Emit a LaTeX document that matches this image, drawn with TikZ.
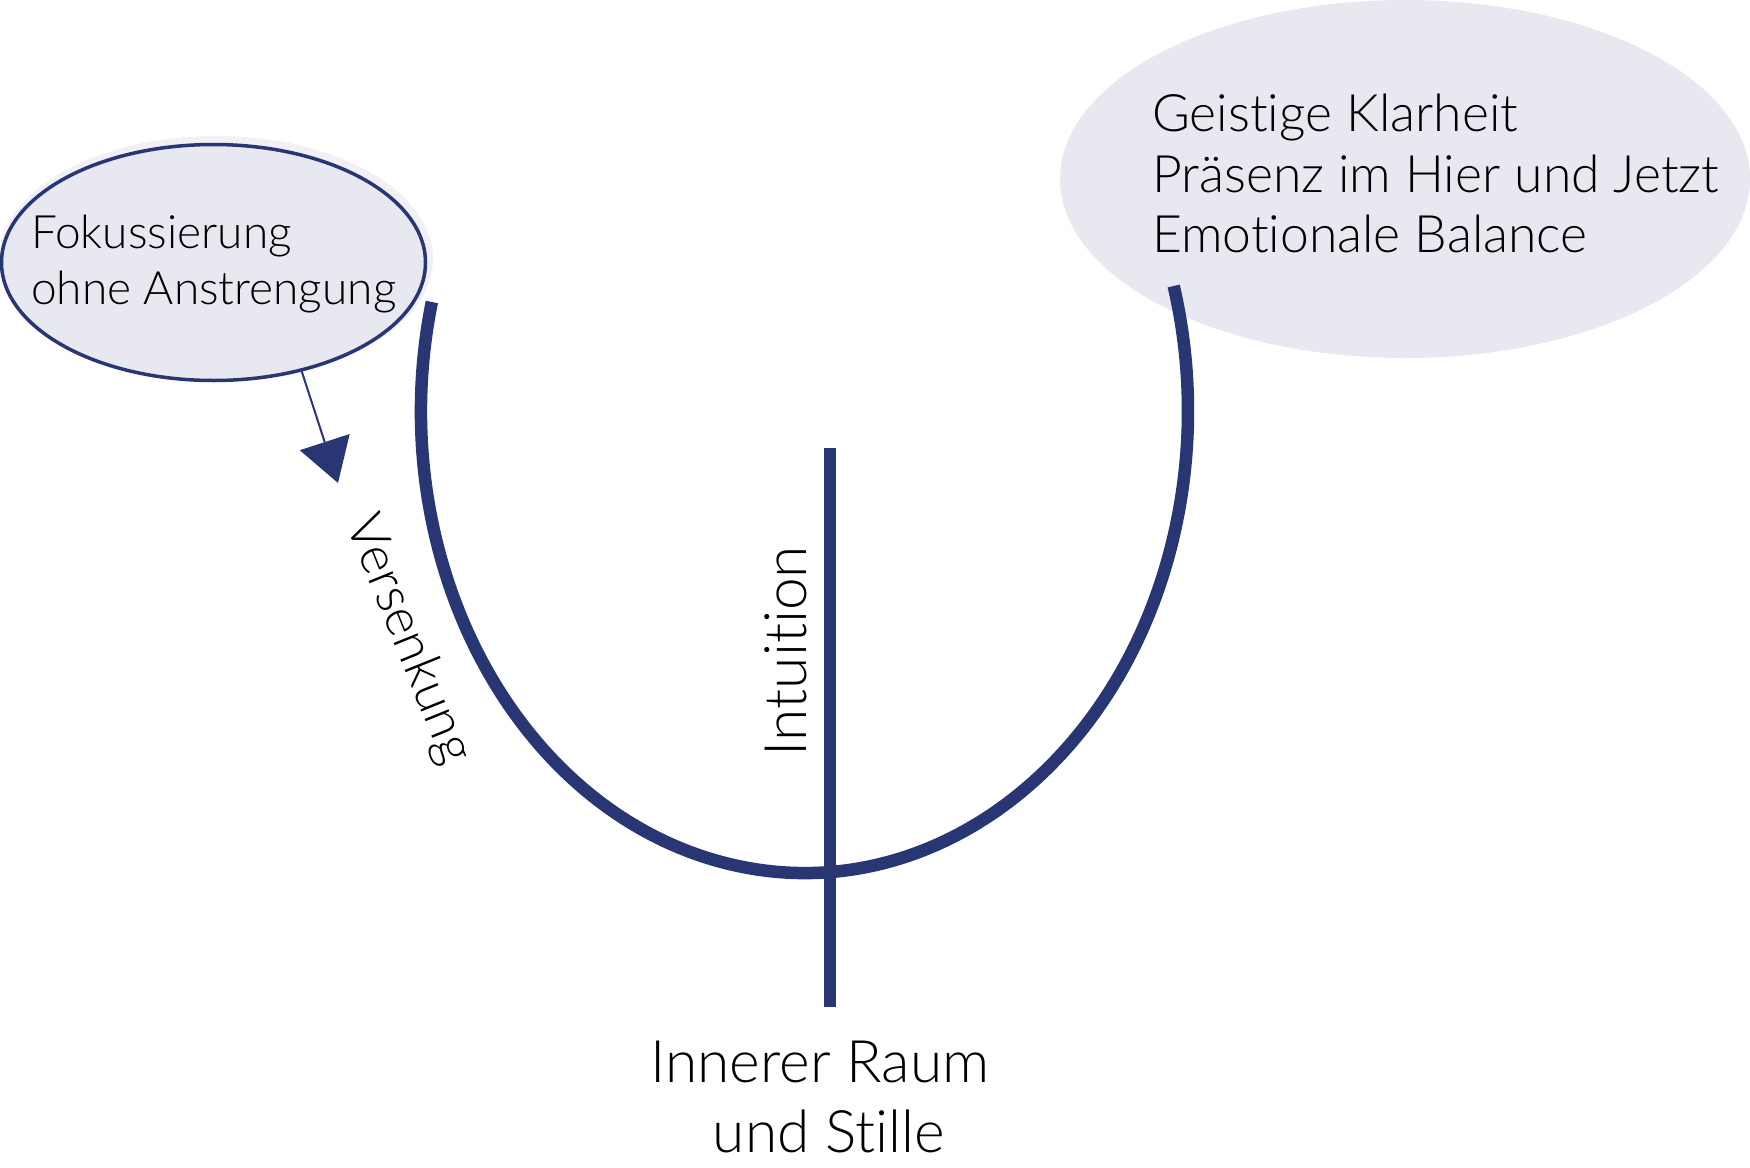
\documentclass[tikz,border=0pt]{standalone}
\usepackage{fontspec}
\setmainfont{Lato Light}[Ligatures=NoCommon]
\usetikzlibrary{arrows.meta,shapes.geometric}
\definecolor{deepblue}{RGB}{40,54,115}
\definecolor{mist}{RGB}{232,233,240}
\definecolor{mistedge}{RGB}{240,240,245}

\begin{document}
\begin{tikzpicture}
[x=1pt,y=-1pt,
  bubbleDecorate/.style={shape=ellipse,fill=mist,inner sep=0pt},%
  labelDecorate/.style={inner sep=0pt,text=black},%
  bigLabel/.style={font=\fontsize{58.6}{70}\selectfont},%
  curveDecorate/.style={draw=deepblue,line width=12.5pt},%
  arrowDecorate/.style={draw=deepblue,line width=2pt,-{Triangle[width=52pt,length=43pt]}}]
\useasboundingbox (0,0) rectangle (1750,1167);
%% bubbles
\node (goal) at (1405,179) [bubbleDecorate,minimum width=690pt,minimum height=358pt] {};
\fill[mistedge] (216,259) ellipse [x radius=217pt,y radius=123pt];
\node (focus) at (213.5,262.5) [bubbleDecorate,draw=deepblue,line width=3.5pt,minimum width=424pt,minimum height=236pt] {};
%% texts in the bubbles
\foreach \nodename/\x/\y/\txt in {
  focusA/31/248/Fokussierung, focusB/31/304/ohne Anstrengung}
{
  \node (\nodename) at (\x,\y) [labelDecorate,anchor=base west,font=\fontsize{46}{56}\selectfont] {\txt};
}
\foreach \nodename/\x/\y/\txt in {
  goalA/1152/131/Geistige Klarheit, goalB/1152/192/Präsenz im Hier und Jetzt,
  goalC/1152/252/Emotionale Balance}
{
  \node (\nodename) at (\x,\y) [labelDecorate,anchor=base west,font=\fontsize{51.6}{61}\selectfont] {\txt};
}
%% the bowl and the stem
\coordinate (uCentre) at (804.5,411);
\draw[curveDecorate] ([shift={(166.35:383.5pt and 462pt)}]uCentre)
  arc[start angle=166.35,end angle=375.7,x radius=383.5pt,y radius=462pt];
\coordinate (stemTop) at (830,448);
\coordinate (stemFoot) at (830,1007);
\draw[curveDecorate] (stemTop) -- (stemFoot);
%% arrow
\coordinate (sinkTip) at (338,483);
\draw[arrowDecorate] (focus.-51) -- (sinkTip);
%% labels
\node (sink) at (408,640) [labelDecorate,font=\fontsize{52}{62}\selectfont,rotate=-68] {Versenkung};
\node (intuition) at (786,651) [labelDecorate,bigLabel,rotate=90] {Intuition};
\foreach \nodename/\x/\y/\txt in {
  spaceA/820/1082/Innerer Raum, spaceB/829/1152/und Stille}
{
  \node (\nodename) at (\x,\y) [labelDecorate,bigLabel,anchor=base] {\txt};
}
\end{tikzpicture}
\end{document}
